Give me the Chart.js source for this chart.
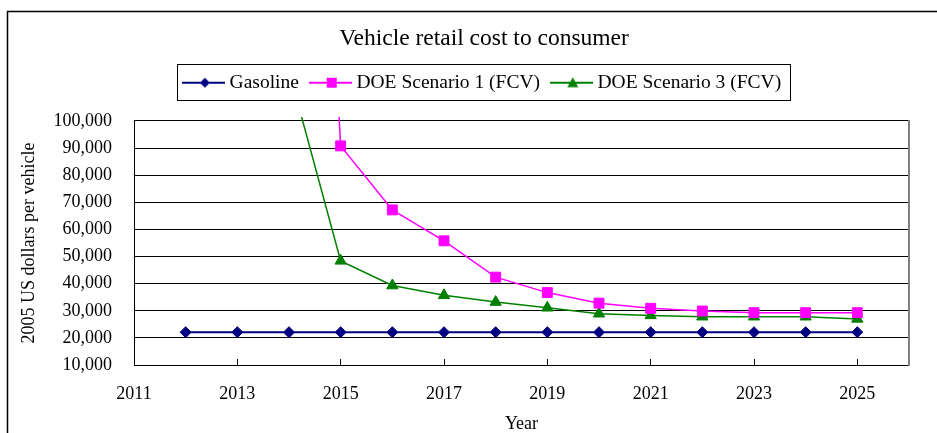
<!DOCTYPE html>
<html>
<head>
<meta charset="utf-8">
<script src="https://cdn.jsdelivr.net/npm/chart.js@4/dist/chart.umd.min.js"></script>
<style>
  html, body { margin: 0; padding: 0; overflow: hidden; background: #fff; }
  #wrap { position: relative; width: 968px; height: 433px; }
</style>
</head>
<body>
<div id="wrap"><canvas id="costChart"></canvas></div>
<script>
const gasYears = [2012, 2013, 2014, 2015, 2016, 2017, 2018, 2019, 2020, 2021, 2022, 2023, 2024, 2025];
const gasCost = [22100, 22100, 22100, 22100, 22100, 22100, 22100, 22100, 22100, 22100, 22100, 22100, 22100, 22100];
const fcvYears = [2014, 2015, 2016, 2017, 2018, 2019, 2020, 2021, 2022, 2023, 2024, 2025];
const doe1Cost = [430000, 90800, 67200, 55800, 42400, 36700, 32800, 30900, 29900, 29300, 29300, 29300];
const doe3Cost = [118600, 48400, 39300, 35700, 33200, 31100, 28900, 28300, 27800, 27800, 27800, 27000];
const xTickYears = [2011, 2013, 2015, 2017, 2019, 2021, 2023, 2025];
const seriesNames = ['Gasoline', 'DOE Scenario 1 (FCV)', 'DOE Scenario 3 (FCV)'];

const serif = 'Liberation Serif';
Chart.defaults.color = '#000';
Chart.defaults.font.family = serif;

function toPoints(xs, ys) {
    return xs.map((x, i) => ({ x: x, y: ys[i] }));
}

// small line+marker picture for the legend
function legendIcon(color, shape) {
    const c = document.createElement('canvas');
    c.width = 43;
    c.height = 14;
    const g = c.getContext('2d');
    g.strokeStyle = color;
    g.fillStyle = color;
    g.lineWidth = 2;
    g.beginPath();
    g.moveTo(0, 7);
    g.lineTo(43, 7);
    g.stroke();
    g.beginPath();
    if (shape === 'diamond') {
        g.moveTo(23, 2); g.lineTo(28, 7); g.lineTo(23, 12); g.lineTo(18, 7);
    } else if (shape === 'square') {
        g.rect(18, 2, 10, 10);
    } else {
        g.moveTo(23, 1.5); g.lineTo(28.5, 11.5); g.lineTo(17.5, 11.5);
    }
    g.closePath();
    g.fill();
    return c;
}

const frame = {
    id: 'frame',
    beforeInit(chart) {
        // leave room under the legend, like the original
        const fit = chart.legend.fit;
        chart.legend.fit = function () {
            fit.call(this);
            this.height += 18.5;
        };
    },
    beforeDraw(chart) {
        const ctx = chart.ctx;
        ctx.save();
        ctx.fillStyle = '#fff';
        ctx.fillRect(0, 0, chart.width, chart.height);
        ctx.strokeStyle = '#000';
        ctx.lineWidth = 1.5;
        ctx.strokeRect(7.5, 11.5, chart.width + 20, chart.height + 20);
        ctx.restore();
    },
    afterDraw(chart) {
        const boxes = chart.legend.legendHitBoxes;
        if (!boxes || !boxes.length) return;
        const left = Math.min(...boxes.map(b => b.left)) - 10;
        const right = Math.max(...boxes.map(b => b.left + b.width)) + 9;
        const top = boxes[0].top - 9;
        const ctx = chart.ctx;
        ctx.save();
        ctx.strokeStyle = '#000';
        ctx.lineWidth = 1;
        ctx.strokeRect(Math.round(left) + 0.5, Math.round(top) + 0.5, Math.round(right - left), 36);
        ctx.restore();
    }
};

new Chart(document.getElementById('costChart'), {
    type: 'line',
    data: {
        datasets: [
            {
                label: seriesNames[0],
                data: toPoints(gasYears, gasCost),
                borderColor: '#000080',
                backgroundColor: '#000080',
                borderWidth: 2,
                pointStyle: 'rectRot',
                pointRadius: 5.5,
                pointBorderWidth: 1,
                legendIcon: legendIcon('#000080', 'diamond')
            },
            {
                label: seriesNames[1],
                data: toPoints(fcvYears, doe1Cost),
                borderColor: '#ff00ff',
                backgroundColor: '#ff00ff',
                borderWidth: 1.5,
                pointStyle: 'rect',
                pointRadius: 7,
                pointBorderWidth: 1,
                legendIcon: legendIcon('#ff00ff', 'square')
            },
            {
                label: seriesNames[2],
                data: toPoints(fcvYears, doe3Cost),
                borderColor: '#008000',
                backgroundColor: '#008000',
                borderWidth: 1.5,
                pointStyle: 'triangle',
                pointRadius: 6.5,
                pointBorderWidth: 1,
                legendIcon: legendIcon('#008000', 'triangle')
            }
        ]
    },
    options: {
        responsive: true,
        maintainAspectRatio: false,
        animation: false,
        clip: 4,
        layout: { padding: 0 },
        elements: { line: { tension: 0 } },
        plugins: {
            title: {
                display: true,
                text: 'Vehicle retail cost to consumer',
                color: '#000',
                font: { family: serif, size: 23.5, weight: 'normal' },
                padding: { top: 25, bottom: 5 }
            },
            legend: {
                display: true,
                position: 'top',
                labels: {
                    color: '#000',
                    font: { family: serif, size: 19.5 },
                    usePointStyle: true,
                    pointStyleWidth: 33,
                    padding: 14.75,
                    generateLabels(chart) {
                        return chart.data.datasets.map((ds, i) => ({
                            text: ds.label,
                            pointStyle: ds.legendIcon,
                            fillStyle: ds.borderColor,
                            strokeStyle: ds.borderColor,
                            lineWidth: 0,
                            fontColor: '#000',
                            datasetIndex: i,
                            hidden: false
                        }));
                    }
                }
            },
            tooltip: { enabled: false }
        },
        scales: {
            x: {
                type: 'linear',
                min: 2011,
                max: 2026,
                afterBuildTicks(scale) {
                    scale.ticks = xTickYears.map(v => ({ value: v }));
                },
                afterFit(scale) {
                    scale.height = 68;
                },
                ticks: {
                    color: '#000',
                    font: { family: serif, size: 18 },
                    padding: 24,
                    maxRotation: 0,
                    autoSkip: false,
                    callback: v => String(v)
                },
                grid: {
                    display: true,
                    drawOnChartArea: false,
                    drawTicks: true,
                    tickLength: -6,
                    color: '#000'
                },
                border: { display: true, color: '#000', width: 1 },
                title: {
                    display: true,
                    text: 'Year',
                    color: '#000',
                    font: { family: serif, size: 18, lineHeight: 1 },
                    padding: { top: 0, bottom: 0 }
                }
            },
            y: {
                type: 'linear',
                position: 'left',
                min: 10000,
                max: 100000,
                afterFit(scale) {
                    scale.width = 134;
                },
                ticks: {
                    stepSize: 10000,
                    color: '#000',
                    font: { family: serif, size: 18 },
                    padding: 22,
                    callback: v => v.toLocaleString('en-US')
                },
                grid: {
                    color: '#000',
                    lineWidth: 1,
                    drawTicks: false
                },
                border: { display: true, color: '#000', width: 1 },
                title: {
                    display: true,
                    text: '2005 US dollars per vehicle',
                    color: '#000',
                    font: { family: serif, size: 18 },
                    padding: { top: 18, bottom: 0 }
                }
            },
            yRight: {
                type: 'linear',
                position: 'right',
                min: 10000,
                max: 100000,
                afterFit(scale) {
                    scale.width = 59;
                },
                ticks: { display: false },
                grid: { drawOnChartArea: false, drawTicks: false },
                border: { display: true, color: '#808080', width: 2 }
            }
        }
    },
    plugins: [frame]
});
</script>
</body>
</html>
